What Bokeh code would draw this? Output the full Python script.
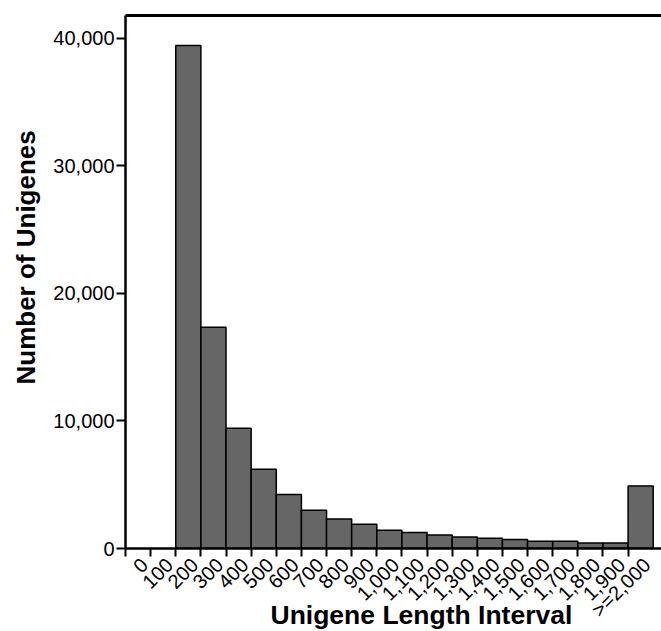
import math
from bokeh.plotting import figure
from bokeh.models import (FixedTicker, NumeralTickFormatter, Range1d, ColumnDataSource,
                          LinearAxis, Title)
from bokeh.embed import file_html
from bokeh.resources import INLINE

bin_labels = ["0", "100", "200", "300", "400", "500", "600", "700", "800", "900",
              "1,000", "1,100", "1,200", "1,300", "1,400", "1,500", "1,600",
              "1,700", "1,800", "1,900", ">=2,000"]
counts = [0, 0, 39450, 17360, 9440, 6220, 4240, 3000, 2320, 1900,
          1440, 1250, 1050, 910, 810, 710, 570, 570, 440, 440, 4910]
y_ticks = [0, 10000, 20000, 30000, 40000]
x_title = "Unigene Length Interval"
y_title = "Number of Unigenes"

idx = list(range(len(bin_labels)))
src = ColumnDataSource(dict(
    left=[i for i, c in zip(idx, counts) if c > 0],
    right=[i + 1 for i, c in zip(idx, counts) if c > 0],
    top=[c for c in counts if c > 0],
))

FONT = "Liberation Sans"
LABEL_SHIFT = 0.75  # label anchor position inside each bin (fraction of bin width)

p = figure(width=661, height=631, x_range=Range1d(0, 21.33), y_range=Range1d(0, 41800),
           output_backend="svg", toolbar_location=None,
           min_border_left=125, min_border_right=0, min_border_top=15, min_border_bottom=83)
p.outline_line_color = None
p.xgrid.visible = False
p.ygrid.visible = False

p.quad(left="left", right="right", bottom=0, top="top", source=src,
       fill_color="#666666", line_color="black", line_width=1.5)

xa = p.below[0]
ya = p.left[0]

label_pos = [i + LABEL_SHIFT for i in idx]
xa.ticker = FixedTicker(ticks=label_pos, minor_ticks=idx)
xa.major_label_overrides = {pos: lab for pos, lab in zip(label_pos, bin_labels)}
xa.major_label_orientation = math.pi / 4
xa.major_tick_line_color = None
xa.major_tick_out = 8
xa.major_tick_in = 0
xa.minor_tick_out = 8
xa.minor_tick_in = 0
xa.minor_tick_line_width = 2
xa.minor_tick_line_color = "black"
xa.axis_line_width = 2.5
xa.axis_line_color = "black"
xa.major_label_text_font = FONT
xa.major_label_text_font_size = "20px"
xa.major_label_text_color = "black"
xa.major_label_standoff = 5

ya.ticker = FixedTicker(ticks=y_ticks, minor_ticks=[])
ya.formatter = NumeralTickFormatter(format="0,0")
ya.major_tick_out = 9
ya.major_tick_in = 0
ya.major_tick_line_width = 2
ya.axis_line_width = 2.5
ya.axis_line_color = "black"
ya.major_label_text_font = FONT
ya.major_label_text_font_size = "20px"
ya.major_label_text_color = "black"
ya.major_label_standoff = 2

# top border line as an empty axis
top_axis = LinearAxis(ticker=FixedTicker(ticks=[], minor_ticks=[]),
                      axis_line_width=3, axis_line_color="black",
                      major_tick_out=0, major_tick_in=0, minor_tick_out=0, minor_tick_in=0,
                      major_label_text_font_size="0px", major_label_standoff=0)
p.add_layout(top_axis, "above")

# axis titles as Title objects (allow horizontal/vertical offsets)
p.add_layout(Title(text=x_title, align="left", offset=145, vertical_align="top",
                   standoff=-63, text_font=FONT, text_font_style="bold",
                   text_font_size="26.5px", text_color="black"), "below")
p.add_layout(Title(text=y_title, align="left", offset=164, vertical_align="middle",
                   standoff=17, text_font=FONT, text_font_style="bold",
                   text_font_size="26px", text_color="black"), "left")

open("out.html", "w").write(file_html(p, INLINE))
